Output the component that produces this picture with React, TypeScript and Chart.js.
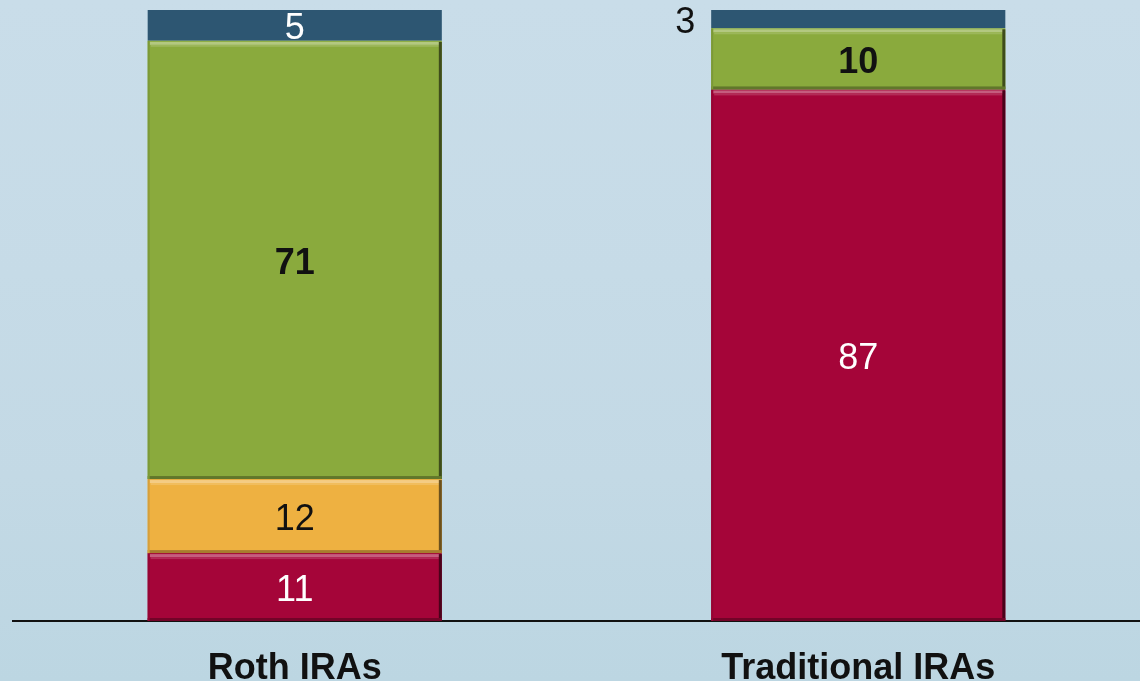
import React, { useEffect, useRef } from "react";
import { Chart, registerables } from "chart.js";

Chart.register(...registerables);

const categories = ["Roth IRAs", "Traditional IRAs"];
const seriesNames = ["Red", "Orange", "Green", "Blue"];
const redValues = [11, 87];
const orangeValues = [12, 0];
const greenValues = [71, 10];
const blueValues = [5, 3];

const rawSeries = [redValues, orangeValues, greenValues, blueValues];
const seriesColors = ["#A50539", "#EEB141", "#8AAA3D", "#2D5672"];
const labelColors = ["#FFFFFF", "#111111", "#111111", "#FFFFFF"];
const labelBold = [false, false, true, false];
const FONT = '"Liberation Sans", Arial, sans-serif';

function shade(hex: string, amt: number): string {
  const n = parseInt(hex.slice(1), 16);
  let r = (n >> 16) & 255, g = (n >> 8) & 255, b = n & 255;
  if (amt >= 0) {
    r = Math.round(r + (255 - r) * amt);
    g = Math.round(g + (255 - g) * amt);
    b = Math.round(b + (255 - b) * amt);
  } else {
    r = Math.round(r * (1 + amt));
    g = Math.round(g * (1 + amt));
    b = Math.round(b * (1 + amt));
  }
  return `rgb(${r},${g},${b})`;
}

const bevelPlugin = {
  id: "bevel",
  afterDatasetsDraw(chart: any) {
    const ctx = chart.ctx;
    chart.data.datasets.forEach((ds: any, di: number) => {
      if (di === 3) return;
      const meta = chart.getDatasetMeta(di);
      meta.data.forEach((el: any, j: number) => {
        const v = rawSeries[di][j];
        if (!v) return;
        const { x, y, base, width } = el.getProps(["x", "y", "base", "width"], true);
        const left = x - width / 2;
        const right = x + width / 2;
        const top = Math.min(y, base);
        const bottom = Math.max(y, base);
        const col = seriesColors[di];
        ctx.save();
        ctx.fillStyle = shade(col, 0.35);
        ctx.fillRect(left + 2, top + 1, width - 4, 3);
        ctx.fillStyle = shade(col, 0.15);
        ctx.fillRect(left + 3, top + 4, width - 6, 2);
        ctx.fillStyle = shade(col, -0.55);
        ctx.fillRect(right - 3, top + 1, 3, bottom - top - 1);
        ctx.fillStyle = shade(col, -0.3);
        ctx.fillRect(left, bottom - 3, width, 3);
        ctx.fillStyle = shade(col, -0.1);
        ctx.fillRect(left, top, 2, bottom - top);
        ctx.restore();
      });
    });
  },
};

const labelPlugin = {
  id: "segLabels",
  afterDatasetsDraw(chart: any) {
    const ctx = chart.ctx;
    chart.data.datasets.forEach((ds: any, di: number) => {
      const meta = chart.getDatasetMeta(di);
      meta.data.forEach((el: any, j: number) => {
        const v = rawSeries[di][j];
        if (!v) return;
        const { x, y, base, width } = el.getProps(["x", "y", "base", "width"], true);
        const top = Math.min(y, base);
        const bottom = Math.max(y, base);
        const cy = (top + bottom) / 2;
        ctx.save();
        ctx.font = `${labelBold[di] ? "bold " : ""}36px ${FONT}`;
        ctx.textBaseline = "middle";
        const small = bottom - top < 25;
        if (small && di === 3 && j === 1) {
          ctx.fillStyle = "#111111";
          ctx.textAlign = "right";
          ctx.fillText(String(v), x - width / 2 - 16, cy + 4);
        } else {
          ctx.fillStyle = labelColors[di];
          ctx.textAlign = "center";
          ctx.fillText(String(v), x, cy + 4);
        }
        ctx.restore();
      });
    });
  },
};

export default function App() {
  const ref = useRef<HTMLCanvasElement | null>(null);
  useEffect(() => {
    if (!ref.current) return;
    const totals = categories.map((_, j) => rawSeries.reduce((s, arr) => s + arr[j], 0));
    const chart = new Chart(ref.current, {
      type: "bar",
      data: {
        labels: categories,
        datasets: rawSeries.map((arr, di) => ({
          label: seriesNames[di],
          data: arr.map((v, j) => (v / totals[j]) * 100),
          backgroundColor: seriesColors[di],
          borderWidth: 0,
          categoryPercentage: 1,
          barPercentage: 0.522,
        })),
      },
      options: {
        animation: false,
        responsive: false,
        maintainAspectRatio: false,
        layout: { padding: { top: 10, left: 13, right: 0, bottom: 0 } },
        plugins: { legend: { display: false }, tooltip: { enabled: false } },
        scales: {
          x: {
            stacked: true,
            grid: { display: false, drawTicks: false },
            border: { display: true, color: "#111111", width: 2 },
            ticks: {
              color: "#111111",
              padding: 26,
              font: { family: FONT, size: 36, weight: "bold" },
            },
            afterFit: (s: any) => {
              s.height = 60;
            },
          },
          y: {
            stacked: true,
            display: false,
            min: 0,
            max: 100,
          },
        },
      },
      plugins: [bevelPlugin, labelPlugin],
    });
    return () => chart.destroy();
  }, []);
  return (
    <div
      style={{
        position: "fixed",
        left: 0,
        top: 0,
        width: 1140,
        height: 681,
        background:
          "linear-gradient(180deg, #C9DDE9 0%, #C6DBE7 40%, #C3D9E5 70%, #BCD6E2 100%)",
      }}
    >
      <canvas ref={ref} width={1140} height={681} style={{ display: "block" }} />
    </div>
  );
}
